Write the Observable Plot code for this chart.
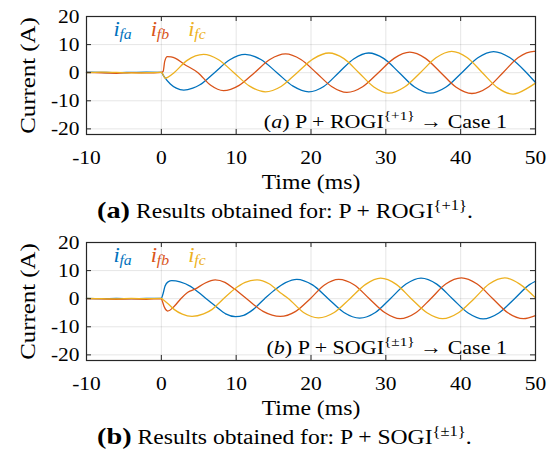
<!DOCTYPE html>
<html><head><meta charset="utf-8">
<script src="https://cdn.jsdelivr.net/npm/d3@7"></script>
<script src="https://cdn.jsdelivr.net/npm/@observablehq/plot@0.6"></script>
<style>
body{margin:0;background:#fff;}
#wrap{position:relative;width:554px;height:451px;font-family:"Liberation Serif","Times New Roman",serif;color:#000;}
#wrap svg{position:absolute;left:0;}
.cap{position:absolute;left:97px;font-size:20px;white-space:nowrap;line-height:26px;transform:scaleX(1.18);transform-origin:left center;}
.cap b{font-size:24px;}
.cap sup{font-size:14px;vertical-align:8px;line-height:0;}
</style></head><body><div id="wrap"></div>
<script>
const xTicks = [-10, 0, 10, 20, 30, 40, 50];
const yTicks = [-20, -10, 0, 10, 20];
const xDomain = [-10, 50];
const yDomain = [-22, 20];
const colors = ["#0072BD", "#D95319", "#EDB120"];
const legendSubs = ["fa", "fb", "fc"];
const legendX = [-6.4, -1.4, 3.6];
const legendY = 15.5;

// Panel (a): P + ROGI{+1}  — [time (ms), current (A)]
const a_ifa = [[-10,0.2],[-8,0.1],[-6,0.0],[-4,0.1],[-2,0.2],[0,0.1],[0.3,-1.1],[1.2,-4.0],[2.0,-5.5],[3.0,-6.2],[4.2,-5.5],[5.1,-4.4],[7.1,0],[9.15,4.6],[11.2,6.5],[13.3,4.7],[15.45,0],[17.6,-4.8],[19.7,-6.8],[21.7,-4.9],[23.7,0],[25.7,4.9],[27.7,7.0],[29.75,5.0],[31.8,0],[33.85,-5.1],[35.9,-7.3],[38.0,-5.2],[40.15,0],[42.3,5.3],[44.4,7.5],[46.6,5.3],[48.8,0],[50,-3.5]];
const a_ifb = [[-10,0.1],[-8,-0.1],[-6,-0.2],[-4,0.0],[-2,-0.1],[0,0.1],[0.25,0.5],[0.45,4.0],[0.8,5.7],[1.3,5.6],[1.9,5.1],[3.0,3.1],[4.9,0],[6.6,-4.5],[8.3,-6.4],[10.4,-4.5],[12.45,0],[14.5,4.7],[16.6,6.7],[18.65,4.7],[20.7,0],[22.75,-4.9],[24.8,-7.0],[26.9,-5.0],[29.0,0],[31.1,5.1],[33.2,7.3],[35.3,5.1],[37.35,0],[39.4,-5.2],[41.5,-7.4],[43.6,-5.3],[45.65,0],[47.7,5.4],[49.8,7.6],[50,7.6]];
const a_ifc = [[-10,0.0],[-8,0.2],[-6,0.1],[-4,-0.1],[-2,0.0],[0,0.1],[0.2,-0.5],[0.5,-2.0],[0.9,-1.6],[1.7,0],[3.4,4.3],[5.65,6.5],[7.6,4.7],[9.7,0],[11.8,-4.8],[13.9,-6.8],[16.0,-4.9],[18.15,0],[20.3,4.9],[22.4,7.0],[24.4,5.0],[26.4,0],[28.4,-5.1],[30.4,-7.3],[32.5,-5.1],[34.6,0],[36.7,5.3],[38.8,7.6],[40.85,5.4],[42.9,0],[44.95,-5.4],[47.0,-7.6],[49.0,-5.4],[50,-3.7]];

// Panel (b): P + SOGI{±1}
const b_ifa = [[-10,0.1],[-8,0.0],[-6,0.1],[-4,0.0],[-2,0.1],[0,0.1],[0.2,1.5],[0.5,4.5],[0.9,6.0],[1.4,6.4],[2.5,6.0],[3.9,4.4],[5.0,2.2],[6.0,0],[7.3,-2.8],[8.6,-5.4],[9.9,-6.4],[11.0,-5.9],[12.3,-3.8],[13.8,0],[15.1,3.0],[16.6,5.7],[18.1,6.9],[20.2,4.9],[22.3,0],[24.4,-4.9],[26.5,-6.9],[28.6,-4.9],[30.6,0],[32.7,5.2],[34.7,7.3],[36.8,5.2],[38.9,0],[41.0,-5.1],[43.0,-7.2],[45.1,-5.1],[47.2,0],[49.2,5.0],[50,6.2]];
const b_ifb = [[-10,0.0],[-8,-0.1],[-6,-0.2],[-4,-0.1],[-2,-0.2],[0,0.0],[0.15,-1.0],[0.4,-3.0],[0.85,-4.4],[1.7,-2.8],[2.6,0],[3.5,2.2],[4.5,3.4],[5.8,5.5],[7.2,6.7],[8.5,5.8],[9.7,3.6],[11.4,0],[13.6,-4.5],[15.9,-6.3],[17.9,-4.6],[19.9,0],[21.8,4.9],[23.7,6.9],[25.8,4.9],[27.8,0],[29.9,-5.0],[31.9,-7.1],[34.0,-5.0],[36.0,0],[38.0,5.2],[40.1,7.4],[42.2,5.2],[44.3,0],[46.3,-5.0],[48.4,-7.1],[50,-6.0]];
const b_ifc = [[-10,0.1],[-8,0.0],[-6,-0.1],[-4,0.1],[-2,0.0],[0,0.1],[0.3,-0.5],[0.9,-1.8],[1.7,-3.8],[2.8,-5.5],[4.1,-6.3],[5.65,-5.4],[6.8,-3.8],[8.0,-0.8],[9.7,3.3],[11.2,5.8],[12.8,6.7],[14.4,5.3],[15.9,2.1],[17.0,0],[19.0,-4.9],[21.0,-6.8],[23.1,-4.9],[25.2,0],[27.3,5.1],[29.3,7.3],[31.4,5.1],[33.4,0],[35.5,-5.0],[37.6,-7.1],[39.7,-5.0],[41.8,0],[43.8,5.2],[45.9,7.4],[47.9,5.2],[50,0.3]];

const W = 554, H = 195, mL = 86, mR = 19, mT = 16, mB = 61;
const fw = W - mL - mR, fh = H - mT - mB;
const STRETCH = 1.13;

function stretchTexts(svg) {
  d3.select(svg).selectAll("text").each(function () {
    const x = +this.getAttribute("x") || 0, y = +this.getAttribute("y") || 0;
    const old = this.getAttribute("transform") || "";
    this.setAttribute("transform", `${old} translate(${x},${y}) scale(${STRETCH},1) translate(${-x},${-y})`);
  });
}

function panel(series, letter, method, sup) {
  const legend = legendSubs.map((s, i) => ({x: legendX[i], sub: s, color: colors[i]}));
  const ink = "#262626";
  const svg = Plot.plot({
    width: W, height: H, marginLeft: mL, marginRight: mR, marginTop: mT, marginBottom: mB,
    style: {fontFamily: '"Liberation Serif", "Times New Roman", serif', color: ink, background: "#fff"},
    x: {domain: xDomain},
    y: {domain: yDomain},
    marks: [
      Plot.gridX(xTicks, {stroke: "#000", strokeOpacity: 0.1}),
      Plot.gridY(yTicks, {stroke: "#000", strokeOpacity: 0.1}),
      ...series.map((s, i) => Plot.line(s, {x: d => d[0], y: d => d[1], stroke: colors[i], strokeWidth: 1.3, curve: "monotone-x"})),
      Plot.tickX(xTicks, {x: d => d, insetTop: fh - 5, stroke: ink}),
      Plot.tickX(xTicks, {x: d => d, insetBottom: fh - 5, stroke: ink}),
      Plot.tickY(yTicks, {y: d => d, insetRight: fw - 5, stroke: ink}),
      Plot.tickY(yTicks, {y: d => d, insetLeft: fw - 5, stroke: ink}),
      Plot.frame({stroke: ink, strokeWidth: 1.2}),
      Plot.axisX(xTicks, {tickSize: 0, tickPadding: 16, fontSize: 19, label: null, fill: "#000", tickFormat: d => String(d)}),
      Plot.axisY(yTicks, {tickSize: 0, tickPadding: 7, fontSize: 19, label: null, fill: "#000", tickFormat: d => String(d)}),
      Plot.text(["Current (A)"], {text: d => d, frameAnchor: "left", textAnchor: "middle", lineAnchor: "middle", rotate: -90, dx: -59, fontSize: 22, fill: "#000"}),
      Plot.text(["Time (ms)"], {text: d => d, frameAnchor: "bottom", lineAnchor: "middle", dy: 48, fontSize: 21, fill: "#000"}),
      Plot.text(legend, {x: "x", y: legendY, text: () => "i", fill: "color", fontStyle: "italic", fontSize: 20, textAnchor: "start"}),
      Plot.text(legend, {x: "x", y: legendY, text: "sub", fill: "color", fontStyle: "italic", fontSize: 14, textAnchor: "start", dx: 6, dy: 5})
    ]
  });
  const t = d3.select(svg).append("text")
    .attr("x", W - mR - 28).attr("y", H - mB - 6)
    .attr("text-anchor", "end").attr("font-size", 19.5).attr("fill", "#000");
  t.append("tspan").text("(");
  t.append("tspan").attr("font-style", "italic").text(letter);
  t.append("tspan").text(") P + " + method);
  t.append("tspan").attr("font-size", 13.5).attr("dy", -8).text(sup);
  t.append("tspan").attr("dy", 8).text(" → Case 1");
  stretchTexts(svg);
  return svg;
}

const wrap = document.getElementById("wrap");
const s1 = panel([a_ifa, a_ifb, a_ifc], "a", "ROGI", "{+1}");
s1.style.top = "0px";
wrap.appendChild(s1);
const c1 = document.createElement("div");
c1.className = "cap"; c1.style.top = "197px";
c1.innerHTML = "<b>(a)</b> Results obtained for: P + ROGI<sup>{+1}</sup>.";
wrap.appendChild(c1);
const s2 = panel([b_ifa, b_ifb, b_ifc], "b", "SOGI", "{±1}");
s2.style.top = "226px";
wrap.appendChild(s2);
const c2 = document.createElement("div");
c2.className = "cap"; c2.style.top = "423px";
c2.innerHTML = "<b>(b)</b> Results obtained for: P + SOGI<sup>{±1}</sup>.";
wrap.appendChild(c2);
</script></body></html>
